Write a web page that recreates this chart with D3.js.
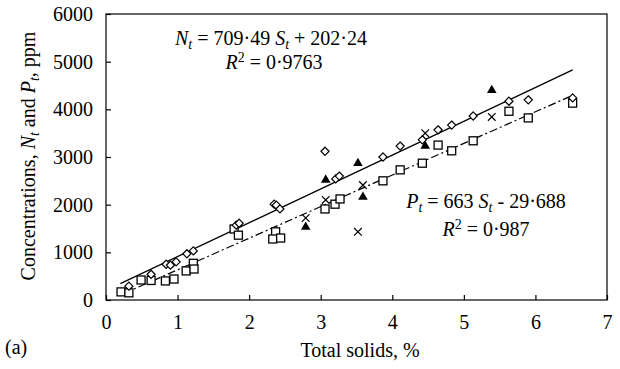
<!DOCTYPE html>
<html>
<head>
<meta charset="utf-8">
<script src="https://cdn.jsdelivr.net/npm/d3@7"></script>
<style>
    body { margin: 0; background: #fff; }
    svg text { font-family: "Liberation Serif", "Times New Roman", serif; fill: #000; }
</style>
</head>
<body>
<div id="chart"></div>
<script>
// Total nitrogen (diamonds) and total phosphorus (squares) vs total solids
const nX = [0.32, 0.63, 0.84, 0.90, 0.98, 1.13, 1.22, 1.82, 1.86, 2.35, 2.38, 2.43, 3.06, 3.21, 3.26, 3.87, 4.11, 4.42, 4.64, 4.83, 5.13, 5.63, 5.90, 6.52];
const nY = [290, 540, 750, 730, 800, 970, 1030, 1570, 1610, 2010, 1990, 1910, 3120, 2540, 2600, 3000, 3230, 3360, 3570, 3670, 3860, 4170, 4200, 4240];

const pX = [0.21, 0.32, 0.49, 0.63, 0.83, 0.95, 1.12, 1.22, 1.23, 1.79, 1.85, 2.37, 2.33, 2.44, 3.06, 3.20, 3.27, 3.87, 4.11, 4.42, 4.64, 4.83, 5.13, 5.63, 5.90, 6.52];
const pY = [170, 150, 420, 410, 400, 440, 610, 770, 650, 1490, 1360, 1430, 1280, 1300, 1910, 2010, 2120, 2500, 2730, 2870, 3250, 3130, 3340, 3960, 3820, 4130];

// Second set of samples: filled triangles and crosses
const triX = [2.79, 3.07, 3.52, 3.59, 4.46, 5.39];
const triY = [1530, 2520, 2870, 2160, 3230, 4400];
const crossX = [2.79, 3.07, 3.52, 3.59, 4.46, 5.39];
const crossY = [1720, 2100, 1430, 2410, 3500, 3840];

// Fitted lines (from the equations printed on the chart)
const nFit = { slope: 709.49, intercept: 202.24, from: 0.2, to: 6.52 };
const pFit = { slope: 663, intercept: -29.688, from: 0.25, to: 6.52 };

const xTicks = [0, 1, 2, 3, 4, 5, 6, 7];
const yTicks = [0, 1000, 2000, 3000, 4000, 5000, 6000];

const W = 620, H = 369;
const margin = { top: 14, right: 13, bottom: 69, left: 106 };
const width = W - margin.left - margin.right;
const height = H - margin.top - margin.bottom;
const FS = '20px', SUB = '14px';

const svg = d3.select('#chart').append('svg')
    .attr('width', W)
    .attr('height', H);

const g = svg.append('g')
    .attr('transform', `translate(${margin.left},${margin.top})`);

// Scales
const x = d3.scaleLinear().domain([0, 7]).range([0, width]);
const y = d3.scaleLinear().domain([0, 6000]).range([height, 0]);

// Frame
g.append('rect')
    .attr('width', width)
    .attr('height', height)
    .attr('fill', 'none')
    .attr('stroke', '#000')
    .attr('stroke-width', 1.2);

// Axes with inward ticks
g.append('g')
    .attr('transform', `translate(0,${height})`)
    .call(d3.axisBottom(x).tickValues(xTicks).tickSize(-5).tickPadding(15).tickFormat(d3.format('d')))
    .call(a => a.select('.domain').remove())
    .selectAll('text')
    .style('font-size', FS);

g.append('g')
    .call(d3.axisLeft(y).tickValues(yTicks).tickSize(-5).tickPadding(13).tickFormat(d3.format('d')))
    .call(a => a.select('.domain').remove())
    .selectAll('text')
    .style('font-size', FS);

g.selectAll('.tick line').attr('stroke', '#000').attr('stroke-width', 1.2);

// Fit lines
const fitLine = f => [[f.from, f.slope * f.from + f.intercept], [f.to, f.slope * f.to + f.intercept]];
const line = d3.line().x(d => x(d[0])).y(d => y(d[1]));

g.append('path')
    .attr('d', line(fitLine(nFit)))
    .attr('fill', 'none')
    .attr('stroke', '#000')
    .attr('stroke-width', 1.3);

g.append('path')
    .attr('d', line(fitLine(pFit)))
    .attr('fill', 'none')
    .attr('stroke', '#000')
    .attr('stroke-width', 1.2)
    .attr('stroke-dasharray', '8,3,2,3');

// Markers
const zip = (xs, ys) => xs.map((v, i) => [v, ys[i]]);

g.append('g').selectAll('rect')
    .data(zip(pX, pY))
    .enter().append('rect')
    .attr('x', d => x(d[0]) - 4)
    .attr('y', d => y(d[1]) - 4)
    .attr('width', 8)
    .attr('height', 8)
    .attr('fill', '#fff')
    .attr('stroke', '#000')
    .attr('stroke-width', 1.3);

g.append('g').selectAll('path')
    .data(zip(nX, nY))
    .enter().append('path')
    .attr('d', d3.symbol(d3.symbolDiamond2, 42))
    .attr('transform', d => `translate(${x(d[0])},${y(d[1])})`)
    .attr('fill', '#fff')
    .attr('stroke', '#000')
    .attr('stroke-width', 1.2);

g.append('g').selectAll('path')
    .data(zip(triX, triY))
    .enter().append('path')
    .attr('d', d3.symbol(d3.symbolTriangle, 40))
    .attr('transform', d => `translate(${x(d[0])},${y(d[1])})`)
    .attr('fill', '#000');

g.append('g').selectAll('path')
    .data(zip(crossX, crossY))
    .enter().append('path')
    .attr('d', d3.symbol(d3.symbolX, 40))
    .attr('transform', d => `translate(${x(d[0])},${y(d[1])})`)
    .attr('fill', 'none')
    .attr('stroke', '#000')
    .attr('stroke-width', 1.2);

// Equations
const eq1 = svg.append('text').attr('x', 271).attr('y', 45)
    .attr('text-anchor', 'middle').style('font-size', FS).style('font-style', 'italic');
eq1.append('tspan').text('N');
eq1.append('tspan').attr('dy', 4).style('font-size', SUB).text('t');
eq1.append('tspan').attr('dy', -4).style('font-style', 'normal').text(' = 709·49 ');
eq1.append('tspan').text('S');
eq1.append('tspan').attr('dy', 4).style('font-size', SUB).text('t');
eq1.append('tspan').attr('dy', -4).style('font-style', 'normal').text(' + 202·24');

const r1 = svg.append('text').attr('x', 274).attr('y', 69)
    .attr('text-anchor', 'middle').style('font-size', FS);
r1.append('tspan').style('font-style', 'italic').text('R');
r1.append('tspan').attr('dy', -7).style('font-size', SUB).text('2');
r1.append('tspan').attr('dy', 7).text(' = 0·9763');

const eq2 = svg.append('text').attr('x', 486).attr('y', 208)
    .attr('text-anchor', 'middle').style('font-size', FS).style('font-style', 'italic');
eq2.append('tspan').text('P');
eq2.append('tspan').attr('dy', 4).style('font-size', SUB).text('t');
eq2.append('tspan').attr('dy', -4).style('font-style', 'normal').text(' = 663 ');
eq2.append('tspan').text('S');
eq2.append('tspan').attr('dy', 4).style('font-size', SUB).text('t');
eq2.append('tspan').attr('dy', -4).style('font-style', 'normal').text(' - 29·688');

const r2 = svg.append('text').attr('x', 486).attr('y', 236)
    .attr('text-anchor', 'middle').style('font-size', FS);
r2.append('tspan').style('font-style', 'italic').text('R');
r2.append('tspan').attr('dy', -7).style('font-size', SUB).text('2');
r2.append('tspan').attr('dy', 7).text(' = 0·987');

// Axis titles
svg.append('text')
    .attr('x', 360)
    .attr('y', 357)
    .attr('text-anchor', 'middle')
    .style('font-size', FS)
    .text('Total solids, %');

const yt = svg.append('text')
    .attr('transform', 'translate(35,156) rotate(-90)')
    .attr('text-anchor', 'middle')
    .style('font-size', FS);
yt.append('tspan').text('Concentrations, ');
yt.append('tspan').style('font-style', 'italic').text('N');
yt.append('tspan').attr('dy', 4).style('font-size', SUB).style('font-style', 'italic').text('t');
yt.append('tspan').attr('dy', -4).text(' and ');
yt.append('tspan').style('font-style', 'italic').text('P');
yt.append('tspan').attr('dy', 4).style('font-size', SUB).style('font-style', 'italic').text('t');
yt.append('tspan').attr('dy', -4).text(', ppm');

svg.append('text')
    .attr('x', 5)
    .attr('y', 354)
    .style('font-size', FS)
    .text('(a)');
</script>
</body>
</html>
